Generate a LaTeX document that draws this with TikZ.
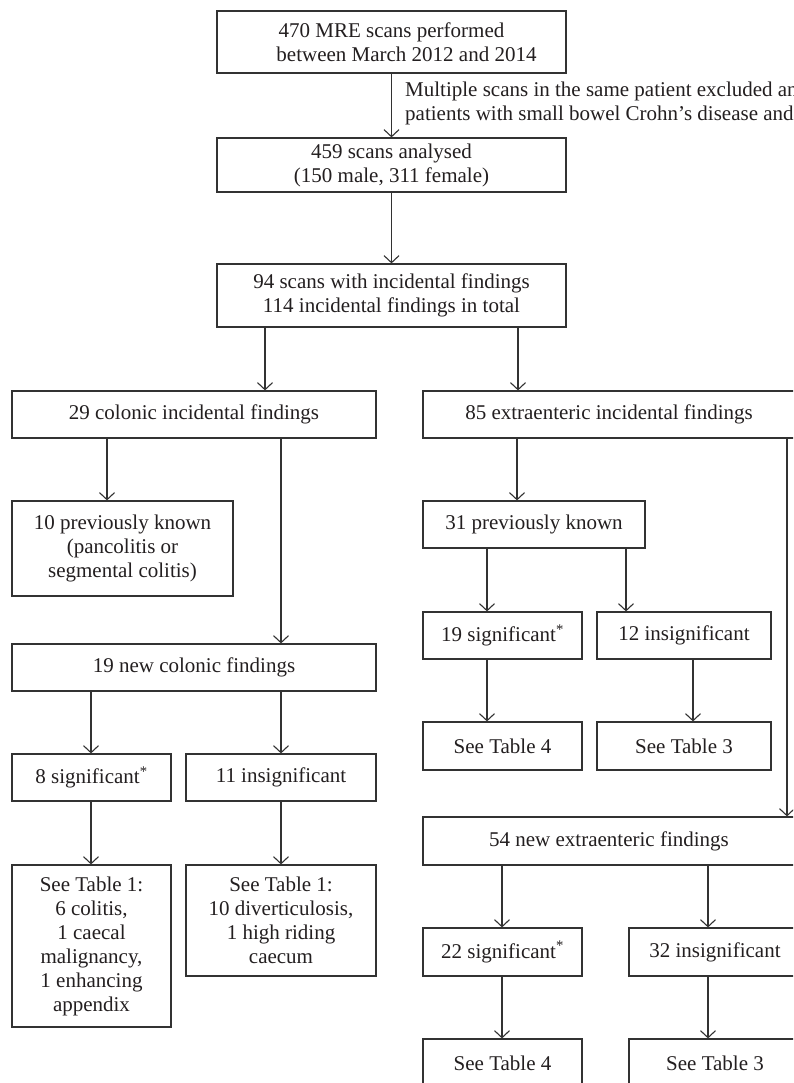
\documentclass[tikz,border=0pt]{standalone}
\usepackage{fontspec}
\setmainfont{Liberation Serif}
\usetikzlibrary{arrows.meta}
\definecolor{ink}{RGB}{35,31,32}
\definecolor{linec}{RGB}{50,50,50}
\tikzset{
  box/.style={draw=linec, line width=1.2pt, rectangle, inner sep=0pt, align=center, text=ink},
  arr/.style={draw=linec, line width=1.2pt, -{Straight Barb[length=7pt,width=15pt,line width=1.1pt]}},
  note/.style={text=ink, align=left, inner sep=0pt},
  every node/.style={font=\fontsize{21}{24}\selectfont}
}
\newcommand{\bx}[6]{\node[box, minimum width={#4-#2}, minimum height={#5-#3}] (#1) at ({(#2+#4)/2},{(#3+#5)/2}) {#6};}
\begin{document}
\begin{tikzpicture}[x=1pt,y=-1pt]
\useasboundingbox (0,0) rectangle (793,1083);
\clip (0,0) rectangle (793,1083);
\fill[white] (0,0) rectangle (793,1083);
% boxes
\bx{b1}{217}{11}{566}{73}{470 MRE scans performed\\\hspace*{30pt}between March 2012 and 2014}
\bx{b2}{217}{138}{566}{192}{459 scans analysed\\(150 male, 311 female)}
\bx{b3}{217}{264}{566}{327}{94 scans with incidental findings\\114 incidental findings in total}
\bx{col}{12}{391}{376}{438}{29 colonic incidental findings}
\bx{ext}{423}{391}{795}{438}{85 extraenteric incidental findings}
\bx{prevA}{12}{501}{233}{596}{10 previously known\\(pancolitis or\\segmental colitis)}
\bx{newA}{12}{644}{376}{691}{19 new colonic findings}
\bx{sigA}{12}{754}{171}{801}{8 significant\textsuperscript{*}}
\bx{insA}{186}{754}{376}{801}{11 insignificant}
\bx{tA}{12}{865}{171}{1027}{See Table 1:\\6 colitis,\\1 caecal\\malignancy,\\1 enhancing\\appendix}
\bx{tB}{186}{865}{376}{976}{See Table 1:\\10 diverticulosis,\\1 high riding\\caecum}
\bx{prevB}{423}{501}{645}{548}{31 previously known}
\bx{sigB}{423}{612}{582}{659}{19 significant\textsuperscript{*}}
\bx{insB}{597}{612}{771}{659}{12 insignificant}
\bx{tC}{423}{722}{582}{770}{See Table 4}
\bx{tD}{597}{722}{771}{770}{See Table 3}
\bx{newB}{423}{817}{795}{865}{54 new extraenteric findings}
\bx{sigC}{423}{928}{582}{976}{22 significant\textsuperscript{*}}
\bx{insC}{629}{928}{801}{976}{32 insignificant}
\bx{tE}{423}{1039}{582}{1087}{See Table 4}
\bx{tF}{629}{1039}{801}{1087}{See Table 3}
\node[note, anchor=west] (excl) at (405,103) {Multiple scans in the same patient excluded and\\patients with small bowel Crohn’s disease and};
% arrow x positions
\coordinate (x265) at (265,0);
\coordinate (x518) at (518,0);
\coordinate (x107) at (107,0);
\coordinate (x281) at (281,0);
\coordinate (x91) at (91,0);
\coordinate (x517) at (517,0);
\coordinate (x787) at (787,0);
\coordinate (x487) at (487,0);
\coordinate (x626) at (626,0);
\coordinate (x693) at (693,0);
\coordinate (x502) at (502,0);
\coordinate (x708) at (708,0);
% connectors
\draw[arr] (b1.south) -- (b2.north);
\draw[arr] (b2.south) -- (b3.north);
\draw[arr] (b3.south -| x265) -- (col.north -| x265);
\draw[arr] (b3.south -| x518) -- (ext.north -| x518);
\draw[arr] (col.south -| x107) -- (prevA.north -| x107);
\draw[arr] (col.south -| x281) -- (newA.north -| x281);
\draw[arr] (newA.south -| x91) -- (sigA.north -| x91);
\draw[arr] (newA.south -| x281) -- (insA.north -| x281);
\draw[arr] (sigA.south -| x91) -- (tA.north -| x91);
\draw[arr] (insA.south -| x281) -- (tB.north -| x281);
\draw[arr] (ext.south -| x517) -- (prevB.north -| x517);
\draw[arr] (ext.south -| x787) -- (newB.north -| x787);
\draw[arr] (prevB.south -| x487) -- (sigB.north -| x487);
\draw[arr] (prevB.south -| x626) -- (insB.north -| x626);
\draw[arr] (sigB.south -| x487) -- (tC.north -| x487);
\draw[arr] (insB.south -| x693) -- (tD.north -| x693);
\draw[arr] (newB.south -| x502) -- (sigC.north -| x502);
\draw[arr] (newB.south -| x708) -- (insC.north -| x708);
\draw[arr] (sigC.south -| x502) -- (tE.north -| x502);
\draw[arr] (insC.south -| x708) -- (tF.north -| x708);
\end{tikzpicture}
\end{document}
